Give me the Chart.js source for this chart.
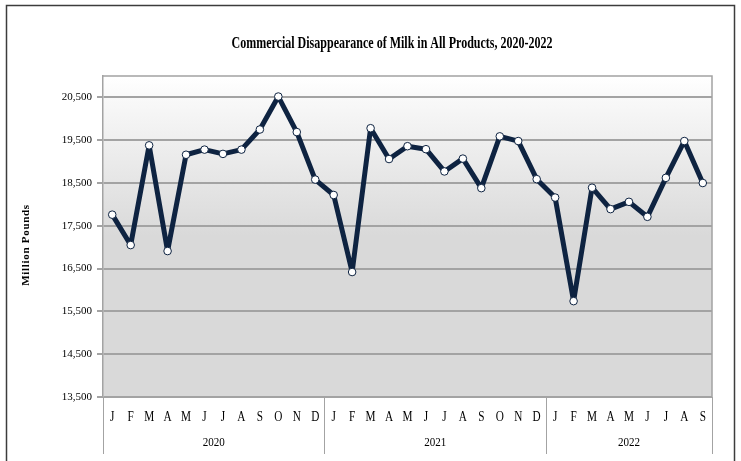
<!DOCTYPE html>
<html>
<head>
<meta charset="utf-8">
<script src="https://cdn.jsdelivr.net/npm/chart.js@4.4.0/dist/chart.umd.min.js"></script>
<style>
  html, body { margin: 0; padding: 0; background: #fff; }
  #wrap { width: 741px; height: 461px; }
</style>
</head>
<body>
<div id="wrap"><canvas id="milkChart" width="741" height="461"></canvas></div>
<script>
// Commercial disappearance of milk, million pounds
const chartTitle = 'Commercial Disappearance of Milk in All Products, 2020-2022';
const axisTitle = 'Million Pounds';

const years = ['2020', '2021', '2022'];
const monthLetters = ['J', 'F', 'M', 'A', 'M', 'J', 'J', 'A', 'S', 'O', 'N', 'D'];

const milk2020 = [17760, 17050, 19380, 16910, 19160, 19280, 19180, 19280, 19750, 20520, 19690, 18580];
const milk2021 = [18220, 16420, 19780, 19060, 19360, 19290, 18770, 19070, 18380, 19590, 19480, 18590];
const milk2022 = [18160, 15740, 18390, 17890, 18060, 17710, 18620, 19480, 18500];

const yTickValues = [13500, 14500, 15500, 16500, 17500, 18500, 19500, 20500];

const yearSeries = [milk2020, milk2021, milk2022];
const labels = [];
const values = [];
yearSeries.forEach((series, y) => {
    series.forEach((v, m) => {
        labels.push(monthLetters[m] + ' ' + years[y]);
        values.push(v);
    });
});

const navy = '#0e2341';
const gridGray = '#a3a3a3';

// draws background panel, frame and all the condensed serif text
const paperDecor = {
    id: 'paperDecor',
    beforeDraw(chart) {
        const { ctx, chartArea: a } = chart;
        ctx.save();
        ctx.fillStyle = '#fff';
        ctx.fillRect(0, 0, chart.width, chart.height);

        const grad = ctx.createLinearGradient(0, a.top, 0, a.bottom);
        grad.addColorStop(0, '#ffffff');
        grad.addColorStop(0.08, '#f8f8f8');
        grad.addColorStop(0.5, '#d9d9d9');
        grad.addColorStop(1, '#d9d9d9');
        ctx.fillStyle = grad;
        ctx.fillRect(a.left, a.top, a.right - a.left, a.bottom - a.top);

        // outer border
        ctx.strokeStyle = '#3c3c3c';
        ctx.lineWidth = 1.5;
        ctx.strokeRect(6.5, 5.5, 728, 470);
        ctx.restore();
    },
    beforeDatasetsDraw(chart) {
        const { ctx, chartArea: a } = chart;
        ctx.save();
        ctx.strokeStyle = gridGray;
        ctx.lineWidth = 1.5;
        ctx.beginPath();
        ctx.moveTo(a.left, a.top);
        ctx.lineTo(a.right, a.top);
        ctx.lineTo(a.right, a.bottom);
        ctx.stroke();
        ctx.restore();
    },
    afterDraw(chart) {
        const { ctx, chartArea: a } = chart;
        const xs = chart.scales.x;
        ctx.save();
        ctx.fillStyle = '#000';

        // title
        ctx.font = 'bold 16px "Liberation Serif"';
        ctx.textAlign = 'center';
        ctx.textBaseline = 'alphabetic';
        ctx.fillText(chartTitle, 392, 48, 321);

        // y axis title
        ctx.save();
        ctx.translate(26, 245);
        ctx.rotate(-Math.PI / 2);
        ctx.font = 'bold 11px "Liberation Serif"';
        ctx.letterSpacing = '0.7px';
        ctx.textBaseline = 'middle';
        ctx.fillText(axisTitle, 0, 0);
        ctx.restore();

        // month letters
        ctx.font = '15px "Liberation Serif"';
        labels.forEach((lab, i) => {
            const x = xs.getPixelForValue(i);
            ctx.save();
            ctx.translate(x, 420.5);
            ctx.scale(0.75, 1);
            ctx.fillText(lab.split(' ')[0], 0, 0);
            ctx.restore();
        });

        // year groups and separators
        const bounds = [a.left];
        let idx = 0;
        yearSeries.forEach(series => {
            idx += series.length;
            const b = idx < labels.length
                ? (xs.getPixelForValue(idx - 1) + xs.getPixelForValue(idx)) / 2
                : a.right;
            bounds.push(b);
        });

        ctx.strokeStyle = gridGray;
        ctx.lineWidth = 1;
        bounds.forEach(b => {
            ctx.beginPath();
            ctx.moveTo(Math.round(b) + 0.5, a.bottom);
            ctx.lineTo(Math.round(b) + 0.5, 454);
            ctx.stroke();
        });

        ctx.font = '13px "Liberation Serif"';
        years.forEach((yr, y) => {
            const cx = (bounds[y] + bounds[y + 1]) / 2;
            ctx.save();
            ctx.translate(cx, 446);
            ctx.scale(0.85, 1);
            ctx.fillText(yr, 0, 0);
            ctx.restore();
        });

        ctx.restore();
    }
};

new Chart(document.getElementById('milkChart'), {
    type: 'line',
    data: {
        labels: labels,
        datasets: [{
            data: values,
            borderColor: navy,
            borderWidth: 5,
            borderJoinStyle: 'round',
            tension: 0,
            pointRadius: 3.8,
            pointBackgroundColor: '#ffffff',
            pointBorderColor: navy,
            pointBorderWidth: 1
        }]
    },
    options: {
        responsive: false,
        animation: false,
        layout: {
            padding: { left: 0, right: 29, top: 76, bottom: 0 }
        },
        plugins: {
            legend: { display: false },
            title: { display: false },
            tooltip: { enabled: false }
        },
        scales: {
            x: {
                type: 'category',
                offset: true,
                grid: { display: false },
                border: { display: false },
                ticks: { display: false },
                afterFit(scale) { scale.height = 64; }
            },
            y: {
                min: 13500,
                max: 21000,
                afterBuildTicks(scale) {
                    scale.ticks = yTickValues.map(v => ({ value: v }));
                },
                afterFit(scale) { scale.width = 103; },
                grid: {
                    color: gridGray,
                    lineWidth: 2,
                    drawTicks: true,
                    tickLength: 6
                },
                border: { display: true, color: gridGray, width: 1.5 },
                ticks: {
                    padding: 5,
                    color: '#000',
                    font: { family: 'Liberation Serif', size: 11 },
                    callback: v => v.toLocaleString('en-US')
                }
            }
        }
    },
    plugins: [paperDecor]
});
</script>
</body>
</html>
